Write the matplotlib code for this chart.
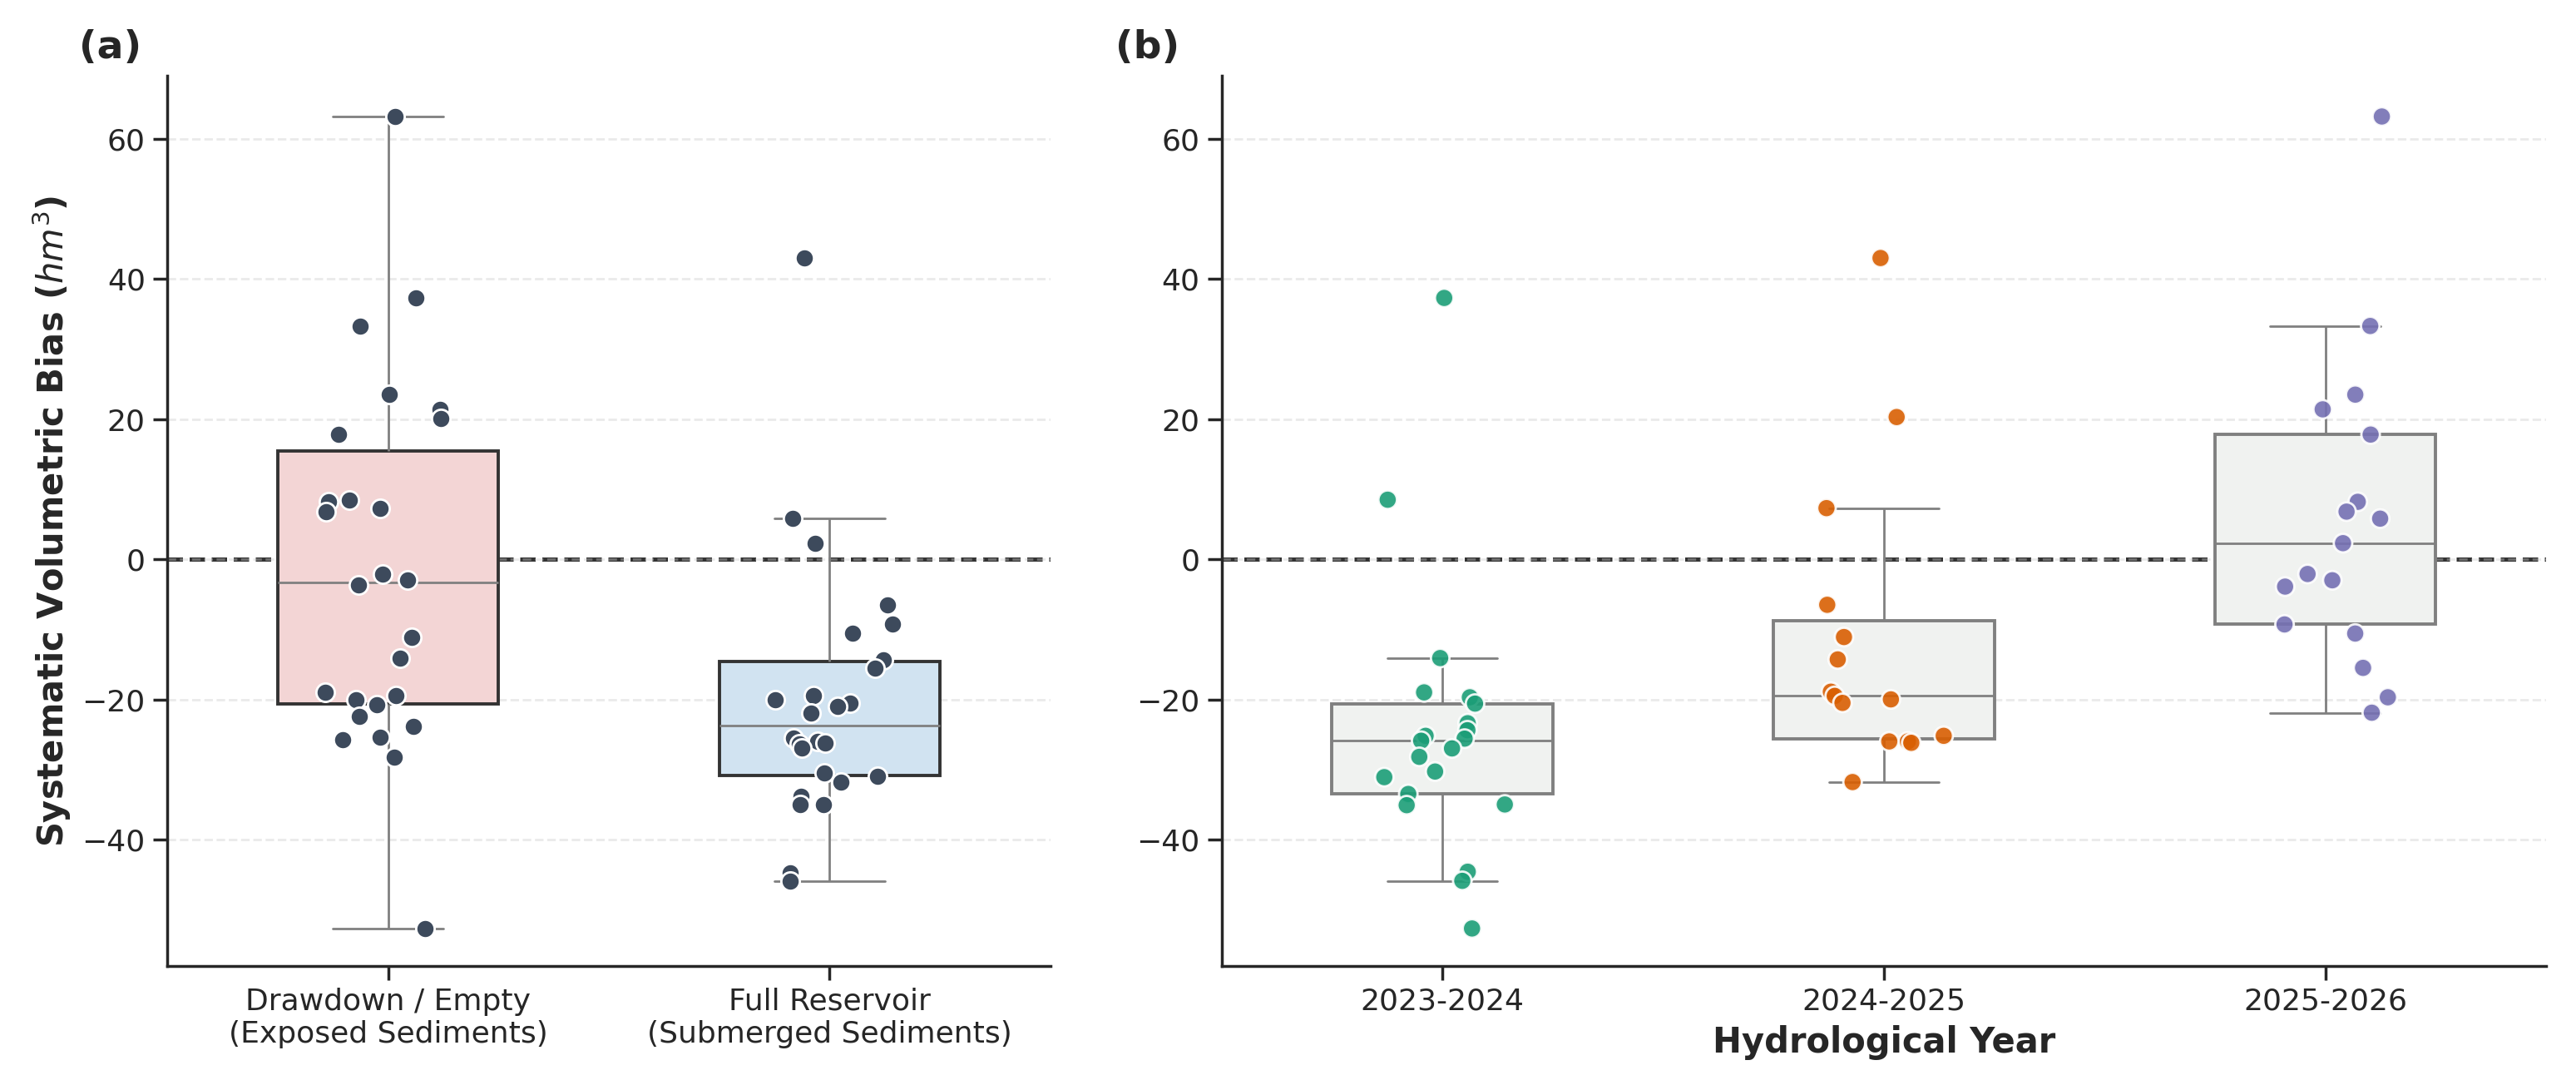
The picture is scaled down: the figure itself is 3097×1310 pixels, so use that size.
import numpy as np
import pandas as pd
import matplotlib
matplotlib.use("Agg")
import matplotlib.pyplot as plt
import seaborn as sns

# Panel (a): bias by reservoir condition
conditions = ["Drawdown / Empty\n(Exposed Sediments)", "Full Reservoir\n(Submerged Sediments)"]
drawdown = [63.2, 37.3, 33.3, 23.5, 21.4, 20.1, 17.8, 8.5, 8.2, 7.3, 6.8, -2.1, -3.0, -3.7,
            -11.1, -14.1, -19.0, -19.5, -20.0, -20.8, -22.4, -23.8, -25.4, -25.8, -28.2, -52.7]
full = [43.0, 5.8, 2.3, -6.5, -9.3, -10.6, -14.3, -15.5, -19.5, -20.0, -20.5, -21.0, -22.0,
        -25.5, -26.0, -26.2, -26.4, -27.0, -30.5, -31.0, -31.8, -33.8, -35.0, -35.0, -44.7, -45.9]

# Panel (b): bias by hydrological year
years = ["2023-2024", "2024-2025", "2025-2026"]
y2324 = [37.3, 8.5, -14.1, -19.0, -19.7, -20.6, -23.4, -24.4, -25.2, -25.6, -25.9, -27.0,
         -28.2, -30.3, -31.1, -33.5, -35.0, -35.1, -44.6, -45.9, -52.7]
y2425 = [43.0, 20.3, 7.3, -6.5, -11.1, -14.3, -18.9, -19.5, -20.0, -20.5, -25.2, -26.0,
         -26.0, -26.2, -31.8]
y2526 = [63.2, 33.3, 23.5, 21.4, 17.8, 8.2, 6.8, 5.8, 2.3, -2.1, -3.0, -3.9, -9.3, -10.6,
         -15.5, -19.7, -21.9]

sns.set_theme(style="ticks")
plt.rcParams['font.family'] = ['DejaVu Sans']
np.random.seed(3)

df_a = pd.DataFrame({"cond": [conditions[0]] * len(drawdown) + [conditions[1]] * len(full),
                     "bias": drawdown + full})
df_b = pd.DataFrame({"year": [years[0]] * len(y2324) + [years[1]] * len(y2425) + [years[2]] * len(y2526),
                     "bias": y2324 + y2425 + y2526})

fig, (ax1, ax2) = plt.subplots(1, 2, figsize=(15.485, 6.55), dpi=200,
                               gridspec_kw=dict(width_ratios=[2, 3]))

# ---- (a)
sns.boxplot(data=df_a, x="cond", y="bias", ax=ax1, width=0.5, showfliers=False,
            palette=["#f8d0d0", "#cce3f6"], hue="cond", legend=False,
            boxprops=dict(edgecolor="#333333", linewidth=1.4),
            whiskerprops=dict(color="grey"), capprops=dict(color="grey"),
            medianprops=dict(color="grey"))
sns.stripplot(data=df_a, x="cond", y="bias", ax=ax1, color="#3d4a5c", size=8,
              jitter=0.15, edgecolor="white", linewidth=1)
ax1.set_xlabel("")
ax1.set_ylabel("Systematic Volumetric Bias ($hm^3$)", fontsize=15, fontweight="bold")

# ---- (b)
sns.boxplot(data=df_b, x="year", y="bias", ax=ax2, width=0.5, showfliers=False, whis=1.4,
            color="#f0f2f0",
            boxprops=dict(edgecolor="grey", linewidth=1.4),
            whiskerprops=dict(color="grey"), capprops=dict(color="grey"),
            medianprops=dict(color="grey"))
sns.stripplot(data=df_b, x="year", y="bias", ax=ax2, hue="year",
              palette=["#1b9e77", "#d95f02", "#7570b3"], size=8, alpha=0.9,
              jitter=0.15, edgecolor="white", linewidth=1, legend=False)
ax2.set_xlabel("Hydrological Year", fontsize=15, fontweight="bold")
ax2.set_ylabel("")

for ax, lab in [(ax1, "(a)"), (ax2, "(b)")]:
    ax.axhline(0, color="#333333", linestyle="--", linewidth=1.8, zorder=0)
    ax.grid(axis="y", linestyle="--", alpha=0.4)
    ax.set_axisbelow(True)
    ax.set_ylim(-58, 69)
    ax.tick_params(labelsize=13)
    ax.text(-0.1, 1.02, lab, transform=ax.transAxes, fontsize=17, fontweight="bold")
    sns.despine(ax=ax)
ax2.texts[-1].set_x(-0.08)

plt.tight_layout(w_pad=3)
fig.savefig("out.png", dpi=200)
